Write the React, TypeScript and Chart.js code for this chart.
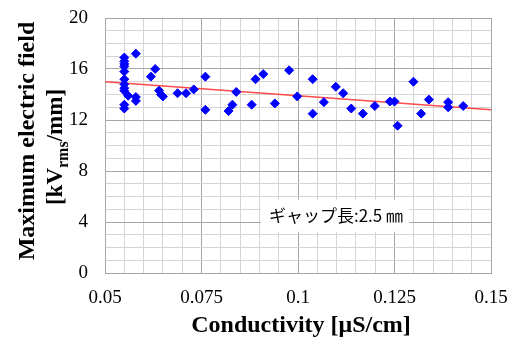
import { useEffect, useRef } from "react";
import { Chart, registerables } from "chart.js";

Chart.register(...registerables);

const conductivity = [
  0.055, 0.055, 0.055, 0.055, 0.055, 0.055, 0.055, 0.055, 0.055, 0.055, 0.055,
  0.056, 0.058, 0.058, 0.058, 0.0619, 0.063, 0.064, 0.0645, 0.065, 0.0688,
  0.071, 0.073, 0.076, 0.076, 0.082, 0.083, 0.084, 0.088, 0.089, 0.091, 0.094,
  0.0977, 0.0998, 0.1038, 0.1038, 0.1067, 0.1098, 0.1117, 0.1138, 0.1168,
  0.1199, 0.1238, 0.125, 0.1258, 0.1299, 0.1319, 0.1339, 0.1389, 0.1389, 0.1428,
];
const maxField = [
  16.9, 16.6, 16.4, 16.2, 15.8, 15.2, 14.8, 14.5, 14.3, 13.2, 12.9,
  13.9, 17.2, 13.8, 13.5, 15.4, 16.0, 14.3, 14.0, 13.85, 14.1,
  14.1, 14.4, 15.4, 12.8, 12.7, 13.2, 14.2, 13.2, 15.2, 15.6, 13.3,
  15.9, 13.85, 15.2, 12.5, 13.4, 14.6, 14.1, 12.9, 12.5,
  13.1, 13.45, 13.45, 11.55, 15.0, 12.5, 13.6, 13.4, 13.0, 13.1,
];
const trendX = [0.05, 0.15];
const trendY = [15.0, 12.8];
const xTickLabels = ["0.05", "0.075", "0.1", "0.125", "0.15"];
const yTickLabels = ["0", "4", "8", "12", "16", "20"];
const xTitle = "Conductivity [μS/cm]";
const yTitleLine1 = "Maximum electric field";
const yTitleLine2 = ["[kV", "rms", "/mm]"];
const noteText = "ギャップ長:2.5 ㎜";
const noteAnchor = { x: 0.0904, y: 4.5 };

const X_MIN = 0.05, X_MAX = 0.15, X_MINOR = 0.005, X_MAJOR = 0.025;
const Y_MIN = 0, Y_MAX = 20, Y_MINOR = 1, Y_MAJOR = 4;

const isMajor = (v: number, step: number, min: number) => {
  const r = (v - min) / step;
  return Math.abs(r - Math.round(r)) < 1e-6;
};

const titlesPlugin = {
  id: "titles",
  beforeDatasetsDraw(chart: any) {
    const { ctx, scales } = chart;
    const xs = scales.x, ys = scales.y;
    ctx.save();
    ctx.font = '17px "Noto Sans CJK JP"';
    const w = ctx.measureText(noteText).width;
    const left = xs.getPixelForValue(noteAnchor.x);
    const cy = ys.getPixelForValue(noteAnchor.y);
    ctx.fillStyle = "#ffffff";
    ctx.fillRect(left, cy - 16, w + 14, 32);
    ctx.fillStyle = "#000000";
    ctx.textBaseline = "middle";
    ctx.textAlign = "left";
    ctx.fillText(noteText, left + 8, cy);
    ctx.restore();
  },
  afterDraw(chart: any) {
    const { ctx } = chart;
    ctx.save();
    ctx.fillStyle = "#000000";
    ctx.font = 'bold 24px "Liberation Serif"';
    ctx.textAlign = "center";
    ctx.textBaseline = "alphabetic";
    ctx.fillText(xTitle, 301, 332);

    ctx.save();
    ctx.translate(34, 141);
    ctx.rotate(-Math.PI / 2);
    ctx.fillText(yTitleLine1, 0, 0);
    ctx.restore();

    ctx.save();
    const mainFont = 'bold 23px "Liberation Serif"';
    const subFont = 'bold 16px "Liberation Serif"';
    ctx.font = mainFont;
    const w1 = ctx.measureText(yTitleLine2[0]).width;
    const w3 = ctx.measureText(yTitleLine2[2]).width;
    ctx.font = subFont;
    const w2 = ctx.measureText(yTitleLine2[1]).width;
    const total = w1 + w2 + w3;
    ctx.translate(62, 147);
    ctx.rotate(-Math.PI / 2);
    ctx.textAlign = "left";
    let x0 = -total / 2;
    ctx.font = mainFont;
    ctx.fillText(yTitleLine2[0], x0, 0);
    x0 += w1;
    ctx.font = subFont;
    ctx.fillText(yTitleLine2[1], x0, 6);
    x0 += w2;
    ctx.font = mainFont;
    ctx.fillText(yTitleLine2[2], x0, 0);
    ctx.restore();
    ctx.restore();
  },
};

export default function App() {
  const ref = useRef<HTMLCanvasElement | null>(null);
  useEffect(() => {
    if (!ref.current) return;
    const chart = new Chart(ref.current, {
      type: "scatter",
      data: {
        datasets: [
          {
            label: "data",
            data: conductivity.map((c, i) => ({ x: c, y: maxField[i] })),
            pointStyle: "rectRot",
            pointRadius: 4.5,
            pointBackgroundColor: "#0000ff",
            pointBorderColor: "#0000ff",
            pointBorderWidth: 1,
            order: 1,
          },
          {
            label: "trend",
            type: "line",
            data: trendX.map((x, i) => ({ x, y: trendY[i] })),
            borderColor: "#ff4a4a",
            borderWidth: 1.5,
            pointRadius: 0,
            showLine: true,
            fill: false,
            order: 2,
          } as any,
        ],
      },
      options: {
        animation: false,
        responsive: false,
        layout: { autoPadding: false, padding: { top: 18, right: 23, left: 0, bottom: 0 } },
        plugins: {
          legend: { display: false },
          tooltip: { enabled: false },
          title: { display: false },
        },
        scales: {
          x: {
            type: "linear",
            min: X_MIN,
            max: X_MAX,
            afterFit: (s: any) => { s.height = 67; s.paddingLeft = 0; s.paddingRight = 0; },
            afterBuildTicks: (s: any) => {
              const t = [];
              const n = Math.round((X_MAX - X_MIN) / X_MINOR);
              for (let i = 0; i <= n; i++) t.push({ value: X_MIN + i * X_MINOR });
              s.ticks = t;
            },
            ticks: {
              autoSkip: false,
              maxRotation: 0,
              minRotation: 0,
              padding: 14,
              color: "#000",
              font: { family: "Liberation Serif", size: 19 },
              callback: (v: any) => {
                const val = Number(v);
                if (!isMajor(val, X_MAJOR, X_MIN)) return "";
                return xTickLabels[Math.round((val - X_MIN) / X_MAJOR)];
              },
            },
            grid: {
              drawTicks: false,
              color: (c: any) =>
                c.tick && isMajor(c.tick.value, X_MAJOR, X_MIN) ? "#a6a6a6" : "#d4d4d4",
              lineWidth: 1,
            },
            border: { color: "#a6a6a6" },
          },
          y: {
            type: "linear",
            min: Y_MIN,
            max: Y_MAX,
            afterFit: (s: any) => { s.width = 105; s.paddingTop = 0; s.paddingBottom = 0; },
            afterBuildTicks: (s: any) => {
              const t = [];
              const n = Math.round((Y_MAX - Y_MIN) / Y_MINOR);
              for (let i = 0; i <= n; i++) t.push({ value: Y_MIN + i * Y_MINOR });
              s.ticks = t;
            },
            ticks: {
              autoSkip: false,
              padding: 17,
              color: "#000",
              font: { family: "Liberation Serif", size: 19 },
              callback: (v: any) => {
                const val = Number(v);
                if (!isMajor(val, Y_MAJOR, Y_MIN)) return "";
                return yTickLabels[Math.round((val - Y_MIN) / Y_MAJOR)];
              },
            },
            grid: {
              drawTicks: false,
              color: (c: any) =>
                c.tick && isMajor(c.tick.value, Y_MAJOR, Y_MIN) ? "#a6a6a6" : "#d4d4d4",
              lineWidth: 1,
            },
            border: { color: "#a6a6a6" },
          },
        },
      },
      plugins: [titlesPlugin],
    });
    return () => chart.destroy();
  }, []);
  return (
    <div style={{ position: "fixed", left: 0, top: 0, width: 514, height: 340, background: "#fff" }}>
      <canvas ref={ref} width={514} height={340} style={{ display: "block" }} />
    </div>
  );
}
